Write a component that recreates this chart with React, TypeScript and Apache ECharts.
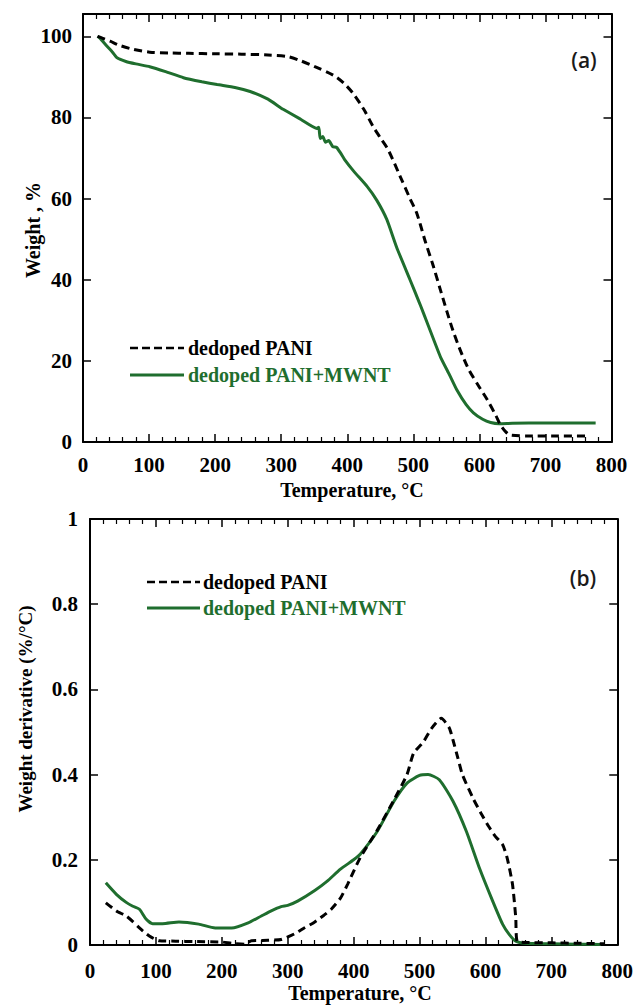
import React, { useEffect, useRef } from "react";
import * as echarts from "echarts";

// ---- Panel (a): TGA weight (%) vs temperature (°C)
const aTempPani = [22, 30, 41, 55, 76, 101, 130, 160, 200, 240, 280, 310, 329, 350, 379, 395, 409, 425, 439, 450, 462, 480, 495, 505, 518, 530, 541, 561, 582, 600, 612, 625, 632, 640, 647, 680, 720, 764];
const aWeightPani = [100, 99.5, 98.8, 97.8, 96.8, 96.1, 95.9, 95.8, 95.7, 95.6, 95.4, 95.0, 94.0, 92.6, 90.4, 88.4, 85.9, 82.0, 77.8, 75.0, 72.0, 65.5, 60.0, 56.5, 49.5, 43.5, 37.5, 27.0, 18.5, 13.5, 10.4, 6.5, 4.2, 2.5, 1.7, 1.5, 1.5, 1.5];

const aTempMwnt = [22, 26, 35, 45, 51, 65, 80, 101, 125, 152, 180, 203, 230, 253, 280, 303, 330, 354, 357, 359, 363, 367, 372, 378, 384, 390, 396, 410, 430, 445, 460, 475, 495, 510, 521, 541, 555, 566, 580, 591, 605, 617, 630, 650, 700, 776];
const aWeightMwnt = [100, 99.5, 97.8, 96, 94.8, 93.8, 93.2, 92.5, 91.3, 89.8, 88.8, 88.1, 87.4, 86.4, 84.5, 82.0, 79.5, 77.3, 77.6, 74.8, 75.3, 73.9, 74.3, 72.8, 72.6, 71.2, 69.6, 66.7, 63.0, 59.5, 54.8, 47.9, 40.0, 34.0, 29.4, 21.0, 16.5, 12.8, 9.2, 7.2, 5.6, 4.8, 4.5, 4.6, 4.7, 4.7];

// ---- Panel (b): derivative weight (%/°C) vs temperature (°C)
const bTempPani = [24, 40, 55, 65, 75, 90, 105, 130, 160, 200, 215, 235, 245, 270, 290, 310, 325, 340, 355, 366, 380, 391, 410, 436, 461, 481, 491, 506, 518, 533, 545, 551, 558, 565, 581, 593, 605, 615, 626, 633, 641, 646, 648, 660, 700, 740, 780];
const bDerivPani = [0.099, 0.080, 0.068, 0.055, 0.040, 0.021, 0.010, 0.009, 0.008, 0.007, 0.004, 0.002, 0.010, 0.011, 0.013, 0.026, 0.040, 0.053, 0.070, 0.084, 0.110, 0.143, 0.205, 0.270, 0.340, 0.400, 0.450, 0.477, 0.508, 0.532, 0.510, 0.480, 0.440, 0.400, 0.345, 0.310, 0.278, 0.255, 0.236, 0.204, 0.143, 0.064, 0.009, 0.006, 0.005, 0.004, 0.003];

const bTempMwnt = [24, 40, 55, 65, 75, 85, 95, 110, 135, 165, 190, 215, 240, 260, 275, 290, 300, 315, 341, 360, 380, 400, 410, 436, 461, 481, 500, 513, 530, 551, 571, 591, 611, 626, 636, 646, 660, 700, 740, 775];
const bDerivMwnt = [0.146, 0.119, 0.100, 0.091, 0.084, 0.061, 0.050, 0.050, 0.054, 0.049, 0.040, 0.040, 0.052, 0.068, 0.080, 0.090, 0.093, 0.103, 0.128, 0.150, 0.178, 0.200, 0.213, 0.267, 0.337, 0.380, 0.398, 0.400, 0.388, 0.337, 0.267, 0.180, 0.103, 0.049, 0.025, 0.009, 0.004, 0.003, 0.002, 0.001];

const legendNames = ["dedoped PANI", "dedoped PANI+MWNT"];
const xTitle = "Temperature, °C";
const yTitleA = "Weight , %";
const yTitleB = "Weight derivative (%/°C)";

const zip = (xs: number[], ys: number[]) => xs.map((x, i) => [x, ys[i]]);

const SERIF = '"Liberation Serif", "Times New Roman", serif';
const GREEN = "#1f6e2e";

function axisBase(extra: any) {
  return {
    type: "value",
    splitLine: { show: false },
    axisLine: { show: true, onZero: false, lineStyle: { color: "#000", width: 2 } },
    axisTick: { show: true, inside: true, length: 8, lineStyle: { color: "#000", width: 1.5 } },
    axisLabel: { show: false },
    ...extra,
  };
}

const labelStyle = (margin: number) => ({
  show: true,
  margin,
  color: "#000",
  fontFamily: SERIF,
  fontWeight: "bold",
  fontSize: 21,
});

const minor = { show: true, splitNumber: 5, length: 5, lineStyle: { color: "#000", width: 1.2 } };

function text(x: number, y: number, t: string, opts: any = {}) {
  const { rotation, color, font, size, weight, align } = opts;
  return {
    type: "text",
    x,
    y,
    rotation: rotation || 0,
    z: 10,
    style: {
      text: t,
      fill: color || "#000",
      fontFamily: font || SERIF,
      fontSize: size || 20,
      fontWeight: weight || "bold",
      align: align || "left",
      verticalAlign: "middle",
      textAlign: align || "left",
      textVerticalAlign: "middle",
    },
  };
}

function legendLines(x1: number, x2: number, y1: number, y2: number) {
  return [
    { type: "line", z: 10, shape: { x1, y1, x2, y2: y1 }, style: { stroke: "#000", lineWidth: 2.5, lineDash: [8, 4] } },
    { type: "line", z: 10, shape: { x1, y1: y2, x2, y2 }, style: { stroke: GREEN, lineWidth: 3 } },
  ];
}

export default function App() {
  const ref = useRef<HTMLDivElement>(null);
  useEffect(() => {
    if (!ref.current) return;
    const chart = echarts.init(ref.current, null, { renderer: "svg" });
    const xA = { min: 0, max: 800, interval: 100 };
    const yA = { min: 0, max: 105.5, interval: 20 };
    const yB = { min: 0, max: 1, interval: 0.2 };
    const tagFont = '"Open Sans", "Noto Sans", sans-serif';
    chart.setOption({
      animation: false,
      backgroundColor: "#fff",
      grid: [
        { left: 83, top: 14, width: 528.5, height: 428, containLabel: false },
        { left: 90, top: 519, width: 532, height: 426, containLabel: false },
      ],
      xAxis: [
        axisBase({ gridIndex: 0, position: "bottom", ...xA, minorTick: minor, axisLabel: labelStyle(12) }),
        axisBase({ gridIndex: 0, position: "top", ...xA, minorTick: minor }),
        axisBase({ gridIndex: 1, position: "bottom", ...xA, minorTick: minor, axisLabel: labelStyle(15) }),
        axisBase({ gridIndex: 1, position: "top", ...xA, minorTick: minor }),
      ],
      yAxis: [
        axisBase({ gridIndex: 0, position: "left", ...yA, axisLabel: { ...labelStyle(11), showMaxLabel: false } }),
        axisBase({ gridIndex: 0, position: "right", ...yA }),
        axisBase({ gridIndex: 1, position: "left", ...yB, axisLabel: labelStyle(12) }),
        axisBase({ gridIndex: 1, position: "right", ...yB }),
      ],
      series: [
        {
          name: legendNames[1],
          type: "line",
          xAxisIndex: 0,
          yAxisIndex: 0,
          data: zip(aTempMwnt, aWeightMwnt),
          symbol: "none",
          smooth: 0.15,
          lineStyle: { color: GREEN, width: 3 },
          z: 2,
        },
        {
          name: legendNames[0],
          type: "line",
          xAxisIndex: 0,
          yAxisIndex: 0,
          data: zip(aTempPani, aWeightPani),
          symbol: "none",
          smooth: 0.3,
          lineStyle: { color: "#000", width: 3, type: [8, 5] },
          z: 3,
        },
        {
          name: legendNames[1],
          type: "line",
          xAxisIndex: 2,
          yAxisIndex: 2,
          data: zip(bTempMwnt, bDerivMwnt),
          symbol: "none",
          smooth: 0.2,
          lineStyle: { color: GREEN, width: 3 },
          z: 2,
        },
        {
          name: legendNames[0],
          type: "line",
          xAxisIndex: 2,
          yAxisIndex: 2,
          data: zip(bTempPani, bDerivPani),
          symbol: "none",
          smooth: 0.2,
          lineStyle: { color: "#000", width: 3, type: [8, 5] },
          z: 3,
        },
      ],
      graphic: [
        // panel (a)
        ...legendLines(130, 184, 348, 375),
        text(188, 348, legendNames[0]),
        text(188, 375, legendNames[1], { color: GREEN }),
        text(584, 60, "(a)", { font: tagFont, weight: 600, align: "center", size: 21, color: "#1a1a1a" }),
        text(352, 490, xTitle, { align: "center" }),
        text(33, 230, yTitleA, { align: "center", rotation: Math.PI / 2 }),
        // panel (b)
        ...legendLines(147, 200, 582, 608),
        text(203, 582, legendNames[0]),
        text(203, 608, legendNames[1], { color: GREEN }),
        text(583, 578, "(b)", { font: tagFont, weight: 600, align: "center", size: 21, color: "#1a1a1a" }),
        text(360, 993, xTitle, { align: "center" }),
        text(25, 709, yTitleB, { align: "center", rotation: Math.PI / 2, size: 19 }),
      ],
    });
    return () => chart.dispose();
  }, []);
  return (
    <div
      ref={ref}
      style={{ position: "absolute", left: 0, top: 0, width: 636, height: 1005, background: "#fff" }}
    />
  );
}
